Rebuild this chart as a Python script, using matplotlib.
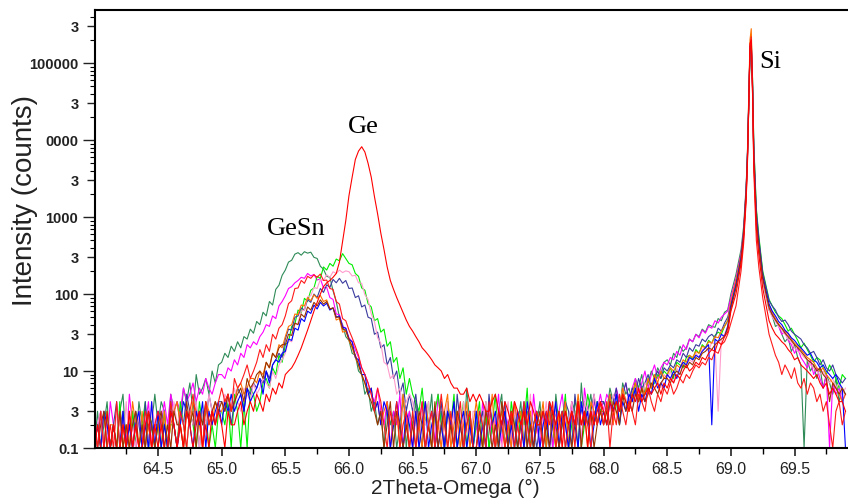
"""
XRD 2Theta-Omega scans of GeSn / Ge layers on Si(004), log intensity.
"""

import numpy as np
import matplotlib
matplotlib.use("Agg")
import matplotlib.pyplot as plt
from matplotlib.ticker import FixedLocator, FixedFormatter, LogLocator, NullFormatter, MultipleLocator

# Scan grid (deg): 0.025 steps, finer over the Si substrate peak
tt_main = np.round(np.arange(64.00, 69.0001, 0.025), 3)   # 201 points
tt_si = [69.04, 69.08, 69.10, 69.12, 69.13, 69.14, 69.15, 69.16, 69.17, 69.18, 69.20, 69.22, 69.25]
tt_tail = np.round(np.arange(69.30, 69.9001, 0.025), 3)   # 25 points
two_theta = np.concatenate([tt_main, tt_si, tt_tail])

# Counts.
# rows of 20 = 0.5 deg each (64.0, 64.5, ... 68.5), then 69.000, the Si peak points, the tail
counts_seagreen = [
    1, 3, 1, 2, 4, 1, 2, 1, 3, 5, 1, 2, 3, 1, 4, 2, 1, 3, 2, 5,
    2, 4, 3, 1, 5, 3, 4, 2, 6, 4, 7, 3, 9, 5, 6, 8, 5, 10, 7, 12,
    13, 17, 15, 21, 18, 24, 20, 28, 26, 35, 31, 44, 40, 58, 52, 80, 72, 115, 130, 175,
    205, 260, 275, 330, 345, 320, 355, 340, 350, 300, 290, 230, 210, 170, 165, 110, 80, 50, 40, 28,
    25, 17, 16, 10, 9, 5, 6, 3, 4, 2, 3, 1, 4, 2, 3, 1, 2, 5, 1, 3,
    2, 4, 1, 3, 1, 2, 5, 1, 2, 3, 1, 4, 2, 1, 3, 2, 1, 6, 2, 1,
    3, 1, 2, 4, 1, 2, 1, 3, 5, 1, 2, 3, 1, 2, 4, 1, 3, 2, 1, 2,
    4, 1, 2, 3, 1, 5, 2, 3, 1, 2, 4, 3, 1, 7, 2, 3, 5, 2, 4, 3,
    4, 3, 6, 4, 5, 3, 7, 5, 6, 4, 8, 6, 9, 5, 7, 10, 8, 11, 9, 13,
    14, 12, 17, 15, 21, 18, 20, 26, 24, 30, 28, 35, 32, 40, 38, 37, 48, 45, 58, 62,
    100,
    180, 380, 750, 2600, 7000, 32000, 150000, 230000, 50000, 6000, 800, 380, 150,
    62, 52, 38, 40, 30, 24, 27, 18, 22, 15, 12, 1, 14, 10, 12, 8, 11, 6, 9, 7, 5, 8, 4, 6, 5,
]
counts_magenta = [
    1, 2, 3, 1, 1, 4, 2, 1, 3, 2, 1, 5, 2, 1, 3, 1, 2, 4, 1, 2,
    3, 2, 4, 2, 5, 3, 4, 3, 6, 4, 5, 7, 4, 6, 5, 8, 6, 5, 7, 9,
    9, 8, 11, 10, 14, 12, 17, 15, 22, 20, 24, 22, 28, 32, 40, 38, 52, 48, 70, 80,
    95, 118, 125, 140, 150, 165, 160, 185, 172, 180, 152, 158, 120, 122, 90, 85, 55, 54, 38, 36,
    27, 24, 19, 15, 11, 9, 7, 5, 4, 6, 3, 2, 4, 1, 3, 2, 5, 1, 2, 3,
    1, 3, 2, 4, 1, 2, 3, 1, 5, 2, 1, 3, 2, 4, 1, 2, 1, 3, 2, 1,
    2, 1, 4, 2, 3, 1, 2, 5, 1, 3, 2, 1, 4, 2, 1, 3, 2, 1, 5, 2,
    1, 3, 2, 4, 1, 2, 3, 5, 2, 1, 4, 2, 3, 1, 6, 3, 2, 4, 3, 5,
    3, 5, 4, 2, 6, 4, 5, 7, 4, 6, 8, 5, 7, 10, 6, 9, 12, 8, 11, 13,
    12, 15, 14, 18, 16, 22, 19, 26, 24, 30, 27, 34, 31, 38, 36, 45, 42, 50, 55, 60,
    90,
    160, 340, 650, 2400, 6500, 30000, 140000, 180000, 55000, 7000, 900, 420, 160,
    68, 55, 46, 38, 30, 33, 25, 22, 17, 20, 15, 13, 11, 14, 9, 11, 8, 6, 9, 1, 7, 5, 6, 4, 5,
]
counts_lime = [
    1, 2, 1, 1, 3, 1, 2, 1, 4, 1, 2, 1, 3, 1, 1, 2, 4, 1, 2, 1,
    2, 1, 3, 1, 2, 2, 1, 4, 2, 1, 3, 2, 1, 4, 2, 3, 1, 2, 1, 3,
    3, 2, 4, 1, 5, 3, 1, 4, 1, 6, 5, 3, 4, 7, 8, 6, 11, 9, 16, 13,
    22, 24, 38, 41, 62, 57, 88, 80, 112, 120, 170, 160, 225, 205, 250, 230, 285, 270, 335, 290,
    250, 240, 185, 170, 120, 112, 75, 68, 45, 48, 32, 35, 21, 24, 13, 15, 8, 11, 5, 8,
    5, 4, 3, 6, 2, 4, 1, 3, 5, 2, 1, 3, 2, 5, 1, 2, 4, 1, 3, 1,
    2, 4, 1, 3, 1, 2, 5, 1, 2, 3, 1, 4, 2, 1, 3, 2, 6, 1, 2, 3,
    2, 3, 1, 4, 2, 1, 3, 2, 5, 1, 2, 4, 3, 1, 2, 5, 3, 2, 4, 3,
    3, 2, 5, 3, 4, 2, 6, 4, 3, 5, 7, 4, 6, 5, 8, 6, 7, 9, 8, 10,
    9, 11, 8, 13, 12, 11, 15, 16, 14, 19, 17, 22, 20, 25, 23, 29, 32, 30, 38, 45,
    72,
    130, 290, 600, 2200, 6000, 28000, 120000, 140000, 65000, 9000, 1300, 560, 200,
    85, 70, 58, 52, 48, 40, 33, 36, 30, 25, 20, 23, 19, 16, 13, 15, 14, 11, 9, 12, 10, 8, 6, 9, 8,
]
counts_navy = [
    2, 1, 3, 1, 2, 1, 2, 4, 1, 3, 1, 2, 1, 3, 2, 1, 4, 1, 2, 1,
    1, 3, 2, 1, 4, 2, 1, 3, 2, 5, 3, 2, 4, 1, 3, 2, 5, 3, 2, 4,
    4, 3, 5, 2, 4, 6, 5, 3, 6, 5, 7, 6, 8, 7, 10, 8, 12, 14, 17, 15,
    26, 35, 34, 50, 52, 66, 62, 85, 78, 100, 90, 118, 105, 132, 122, 155, 140, 160, 138, 150,
    118, 120, 90, 95, 68, 72, 50, 48, 30, 32, 20, 22, 12, 15, 8, 10, 5, 7, 3, 5,
    3, 5, 2, 1, 4, 2, 3, 1, 2, 4, 1, 3, 2, 1, 5, 2, 1, 3, 2, 1,
    1, 2, 3, 1, 5, 2, 1, 3, 2, 4, 1, 2, 3, 1, 2, 4, 1, 3, 2, 1,
    2, 3, 1, 4, 2, 3, 1, 2, 4, 3, 1, 5, 2, 3, 4, 2, 3, 5, 2, 4,
    4, 3, 5, 4, 6, 3, 5, 7, 4, 6, 5, 8, 6, 7, 9, 6, 8, 10, 8, 11,
    10, 12, 11, 14, 13, 17, 15, 20, 18, 22, 21, 26, 24, 28, 30, 27, 36, 33, 42, 50,
    75,
    140, 310, 640, 2300, 6300, 29000, 130000, 150000, 60000, 8500, 1200, 520, 190,
    82, 70, 62, 50, 44, 46, 40, 33, 30, 28, 26, 22, 20, 17, 18, 15, 12, 14, 11, 10, 12, 9, 8, 7, 8,
]
counts_pink = [
    1, 2, 3, 1, 2, 1, 1, 3, 2, 1, 4, 1, 2, 1, 3, 1, 2, 1, 4, 2,
    2, 3, 1, 2, 1, 4, 2, 3, 2, 1, 3, 2, 4, 1, 3, 2, 5, 3, 4, 3,
    3, 5, 4, 3, 6, 4, 3, 6, 5, 4, 7, 5, 6, 8, 7, 6, 10, 8, 12, 14,
    17, 25, 24, 40, 42, 60, 62, 92, 95, 122, 118, 155, 150, 178, 165, 195, 185, 205, 190, 200,
    195, 172, 175, 140, 138, 98, 85, 55, 44, 27, 23, 13, 12, 8, 9, 5, 6, 3, 4, 5,
    4, 2, 1, 3, 2, 4, 1, 2, 3, 1, 2, 4, 1, 3, 2, 1, 4, 2, 1, 3,
    3, 1, 2, 4, 2, 1, 3, 2, 1, 2, 4, 1, 3, 2, 1, 3, 2, 5, 1, 2,
    3, 2, 4, 1, 2, 3, 2, 1, 3, 2, 4, 2, 3, 1, 4, 3, 2, 5, 3, 4,
    3, 4, 2, 5, 4, 3, 6, 4, 5, 3, 6, 5, 4, 7, 6, 5, 8, 7, 6, 9,
    8, 10, 7, 11, 9, 13, 12, 14, 13, 17, 15, 19, 20, 18, 24, 22, 3, 26, 30, 38,
    60,
    120, 280, 560, 2000, 5500, 27000, 170000, 200000, 45000, 5500, 800, 380, 150,
    62, 50, 44, 38, 34, 30, 26, 24, 20, 18, 17, 15, 14, 12, 11, 10, 9, 10, 8, 7, 8, 6, 7, 5, 6,
]
counts_orange = [
    1, 2, 1, 3, 1, 2, 2, 1, 3, 1, 2, 1, 4, 2, 1, 3, 1, 2, 1, 2,
    2, 1, 3, 1, 2, 3, 4, 2, 1, 3, 2, 4, 3, 2, 1, 4, 3, 2, 4, 3,
    3, 4, 5, 3, 4, 6, 7, 5, 6, 8, 8, 7, 10, 9, 13, 11, 17, 15, 22, 20,
    28, 38, 40, 55, 54, 72, 70, 90, 82, 98, 88, 96, 80, 84, 64, 66, 46, 48, 32, 33,
    25, 20, 15, 12, 9, 7, 5, 6, 3, 4, 2, 3, 4, 1, 2, 3, 1, 5, 2, 1,
    1, 3, 2, 1, 4, 2, 1, 3, 2, 1, 3, 5, 1, 2, 3, 1, 2, 4, 1, 2,
    4, 2, 1, 3, 2, 5, 1, 2, 3, 1, 2, 1, 4, 2, 3, 1, 2, 3, 1, 2,
    2, 4, 1, 3, 2, 1, 3, 2, 4, 1, 3, 2, 5, 2, 3, 1, 4, 3, 2, 3,
    2, 3, 5, 2, 4, 3, 6, 4, 3, 5, 7, 4, 6, 5, 8, 6, 9, 7, 10, 8,
    9, 11, 10, 12, 11, 14, 13, 16, 15, 18, 17, 21, 20, 24, 23, 28, 27, 33, 38, 45,
    80,
    150, 320, 620, 2300, 6500, 35000, 200000, 280000, 60000, 7000, 1000, 450, 170,
    72, 58, 48, 41, 36, 33, 30, 26, 23, 21, 19, 17, 15, 14, 13, 11, 10, 11, 9, 8, 7, 6, 5, 4, 5,
]
counts_blue = [
    1, 2, 1, 3, 2, 1, 2, 1, 1, 3, 1, 2, 1, 2, 3, 1, 2, 1, 4, 1,
    3, 1, 2, 1, 3, 2, 1, 2, 4, 3, 2, 1, 3, 2, 4, 1, 3, 2, 3, 4,
    2, 4, 3, 5, 3, 4, 5, 3, 6, 4, 5, 6, 8, 5, 10, 7, 12, 14, 13, 17,
    18, 26, 25, 36, 34, 48, 44, 60, 56, 72, 64, 78, 70, 76, 62, 66, 50, 52, 37, 36,
    26, 24, 15, 14, 9, 9, 5, 6, 3, 4, 2, 4, 3, 1, 2, 4, 2, 1, 3, 2,
    1, 3, 1, 2, 4, 1, 2, 3, 1, 2, 1, 3, 2, 4, 1, 2, 3, 1, 2, 1,
    3, 1, 2, 1, 4, 2, 3, 1, 2, 3, 1, 2, 1, 3, 2, 1, 4, 2, 1, 3,
    1, 2, 3, 1, 2, 4, 1, 3, 2, 1, 3, 2, 1, 4, 2, 3, 1, 2, 4, 2,
    3, 2, 4, 3, 5, 2, 4, 3, 5, 4, 6, 3, 5, 4, 6, 5, 8, 6, 7, 6,
    9, 8, 10, 8, 11, 13, 12, 15, 14, 16, 15, 18, 20, 22, 2, 26, 24, 30, 28, 38,
    70,
    130, 300, 600, 2100, 6000, 28000, 160000, 190000, 50000, 6500, 1000, 460, 170,
    74, 60, 52, 44, 40, 34, 31, 27, 25, 22, 20, 18, 16, 17, 14, 13, 11, 12, 10, 9, 8, 9, 7, 6, 1,
]
counts_brown = [
    2, 1, 2, 3, 1, 1, 2, 1, 3, 1, 2, 1, 2, 3, 1, 2, 1, 3, 2, 1,
    2, 3, 1, 2, 1, 3, 2, 2, 1, 4, 2, 3, 1, 3, 2, 4, 2, 3, 4, 3,
    4, 3, 5, 3, 4, 5, 6, 4, 8, 6, 7, 9, 10, 8, 13, 11, 17, 15, 20, 22,
    22, 30, 29, 42, 40, 55, 50, 68, 62, 78, 70, 84, 74, 80, 64, 66, 50, 50, 35, 34,
    26, 21, 16, 12, 9, 7, 5, 4, 3, 2, 3, 1, 2, 4, 1, 3, 2, 1, 2, 1,
    2, 1, 3, 2, 1, 2, 1, 4, 1, 2, 3, 1, 2, 1, 3, 2, 1, 2, 3, 1,
    1, 2, 1, 3, 2, 1, 2, 1, 4, 2, 1, 3, 2, 1, 2, 3, 1, 2, 1, 2,
    3, 1, 2, 1, 3, 2, 1, 2, 3, 2, 1, 2, 4, 1, 3, 2, 3, 1, 2, 3,
    2, 3, 2, 4, 3, 2, 5, 3, 4, 3, 5, 4, 6, 4, 5, 7, 6, 5, 7, 8,
    8, 7, 9, 10, 9, 12, 11, 13, 12, 15, 14, 17, 18, 20, 19, 22, 24, 26, 28, 36,
    65,
    120, 280, 580, 2000, 5800, 27000, 150000, 170000, 48000, 6000, 900, 420, 160,
    66, 54, 46, 40, 36, 31, 28, 25, 22, 20, 18, 16, 14, 13, 12, 10, 11, 9, 8, 4, 7, 6, 5, 6, 5,
]
counts_red = [
    2, 1, 3, 1, 1, 2, 1, 4, 1, 2, 1, 3, 1, 2, 1, 1, 3, 2, 1, 2,
    3, 2, 1, 1, 4, 2, 1, 3, 2, 1, 3, 5, 2, 3, 1, 4, 2, 3, 2, 4,
    6, 4, 5, 3, 8, 6, 7, 9, 12, 8, 10, 13, 19, 15, 22, 18, 30, 26, 36, 40,
    52, 75, 82, 118, 120, 150, 138, 170, 160, 178, 165, 182, 150, 152, 118, 115, 80, 74, 48, 45,
    34, 27, 21, 16, 11, 9, 7, 5, 3, 6, 4, 2, 1, 3, 2, 4, 1, 2, 3, 1,
    3, 1, 2, 4, 1, 2, 3, 1, 2, 5, 2, 1, 3, 1, 2, 4, 1, 2, 3, 1,
    1, 3, 2, 1, 4, 2, 1, 3, 2, 1, 2, 3, 1, 2, 1, 4, 2, 1, 2, 3,
    2, 1, 3, 2, 4, 1, 2, 3, 1, 2, 3, 1, 4, 2, 3, 2, 1, 3, 2, 4,
    2, 4, 1, 3, 2, 5, 3, 2, 4, 3, 2, 5, 4, 3, 6, 4, 3, 5, 4, 6,
    5, 7, 5, 6, 8, 7, 9, 8, 10, 12, 11, 13, 12, 15, 14, 18, 17, 22, 24, 30,
    42,
    70, 200, 450, 1600, 5000, 25000, 160000, 220000, 40000, 4000, 500, 220, 90,
    30, 22, 16, 13, 9, 12, 10, 8, 11, 7, 6, 8, 5, 7, 6, 4, 5, 3, 4, 2, 1, 3, 4, 2, 3,
]
counts_ge = [
    1, 2, 1, 1, 3, 1, 2, 1, 1, 2, 1, 3, 1, 2, 1, 1, 2, 3, 1, 2,
    1, 2, 1, 1, 3, 2, 1, 2, 1, 3, 2, 1, 2, 3, 1, 2, 1, 3, 2, 3,
    2, 1, 3, 2, 2, 3, 4, 2, 3, 4, 3, 5, 4, 3, 5, 4, 6, 5, 7, 6,
    9, 10, 11, 13, 16, 20, 26, 34, 45, 60, 78, 100, 125, 140, 150, 165, 185, 260, 480, 900,
    1900, 3300, 5600, 7200, 8200, 7000, 5000, 3300, 1850, 1100, 620, 380, 225, 150, 115, 90, 72, 58, 46, 38,
    33, 28, 24, 20, 18, 16, 14, 12, 11, 10, 8, 9, 7, 6, 6, 5, 5, 6, 4, 5,
    4, 5, 4, 3, 3, 4, 5, 3, 2, 4, 3, 2, 4, 3, 2, 3, 2, 4, 3, 2,
    2, 3, 2, 4, 3, 2, 3, 1, 3, 2, 3, 2, 4, 2, 3, 1, 3, 2, 3, 4,
    3, 2, 4, 3, 4, 3, 5, 4, 3, 5, 4, 6, 4, 5, 6, 5, 6, 7, 5, 7,
    6, 8, 7, 9, 8, 10, 12, 10, 11, 13, 12, 15, 14, 17, 19, 18, 24, 22, 28, 32,
    60,
    100, 250, 520, 1800, 5000, 26000, 180000, 200000, 42000, 5000, 700, 320, 120,
    45, 36, 30, 27, 24, 22, 19, 17, 14, 15, 12, 11, 10, 9, 8, 9, 7, 6, 7, 5, 6, 5, 4, 4, 3,
]

# Axis ticks and labels as printed on the original
ytick_vals = [1, 3, 10, 30, 100, 300, 1e3, 3e3, 1e4, 3e4, 1e5, 3e5]
ytick_labels = ['0.1', '3', '10', '3', '100', '3', '1000', '3', '0000', '3', '100000', '3']

series = [
    ('seagreen', counts_seagreen, '#2e8b57'),
    ('magenta', counts_magenta, '#ff00ff'),
    ('lime', counts_lime, '#00ee00'),
    ('navy', counts_navy, '#3a3a9e'),
    ('pink', counts_pink, '#ff9ccc'),
    ('orange', counts_orange, '#ff7000'),
    ('blue', counts_blue, '#0000ff'),
    ('brown', counts_brown, '#993300'),
    ('red', counts_red, '#ff1a1a'),
    ('ge', counts_ge, '#ff0000'),
]

SANS = ['Liberation Sans Narrow', 'Liberation Sans', 'DejaVu Sans']
SERIF = ['Liberation Serif', 'DejaVu Serif']


def main():
    for name, counts, _ in series:
        if len(counts) != len(two_theta):
            raise ValueError(f"{name}: {len(counts)} values, grid has {len(two_theta)}")

    fig = plt.figure(figsize=(8.48, 5.0), dpi=100)
    ax = fig.add_axes([95 / 848, 52 / 500, 753 / 848, 438 / 500])

    for name, counts, color in series:
        ax.plot(two_theta, counts, color=color, lw=0.8)

    ax.set_yscale('log')
    ax.set_ylim(1, 4.9e5)
    ax.set_xlim(64.005, 69.92)

    # y ticks: decades + "3" marks, dense log minors
    ax.yaxis.set_major_locator(FixedLocator(ytick_vals))
    ax.yaxis.set_major_formatter(FixedFormatter(ytick_labels))
    ax.yaxis.set_minor_locator(LogLocator(base=10, subs=[2, 4, 5, 6, 7, 8, 9], numticks=20))
    ax.yaxis.set_minor_formatter(NullFormatter())
    ax.tick_params(axis='y', which='major', direction='out', length=9, width=1.0, pad=3,
                   labelsize=10.5, colors='#222222')
    ax.tick_params(axis='y', which='minor', direction='out', length=3.5, width=0.8)
    for tick, v in zip(ax.yaxis.get_major_ticks(), ytick_vals):
        if str(int(v))[0] == '3':
            tick.tick1line.set_markersize(6)
    for lab in ax.get_yticklabels():
        lab.set_fontfamily(SANS)
        lab.set_fontweight('bold')

    # x ticks
    ax.xaxis.set_major_locator(MultipleLocator(0.5))
    ax.xaxis.set_minor_locator(MultipleLocator(0.25))
    ax.xaxis.set_major_formatter(plt.FormatStrFormatter('%.1f'))
    ax.tick_params(axis='x', which='major', direction='out', length=6, width=1.2, pad=4,
                   labelsize=11.5, colors='#222222')
    ax.tick_params(axis='x', which='minor', direction='out', length=4, width=1.0)
    for lab in ax.get_xticklabels():
        lab.set_fontfamily(SANS)

    for side in ['left', 'bottom', 'top']:
        ax.spines[side].set_linewidth(1.5)
    ax.spines['right'].set_visible(False)

    # axis titles
    fig.text(25.5 / 848, 1 - 200 / 500, 'Intensity (counts)', rotation=90, ha='center', va='center',
             fontsize=20, family=['Liberation Sans', 'DejaVu Sans'], color='#222222')
    fig.text(455 / 848, 1 - 488 / 500, '2Theta-Omega (°)', ha='center', va='center',
             fontsize=15, family=SANS, color='#222222')

    # peak labels
    ax.text(65.359, 584, 'GeSn', fontsize=19, family=SERIF, ha='left', va='baseline')
    ax.text(65.995, 12300, 'Ge', fontsize=19, family=SERIF, ha='left', va='baseline')
    ax.text(69.223, 86100, 'Si', fontsize=19, family=SERIF, ha='left', va='baseline')

    fig.savefig('out.png', dpi=100)
    plt.close(fig)


if __name__ == "__main__":
    main()
